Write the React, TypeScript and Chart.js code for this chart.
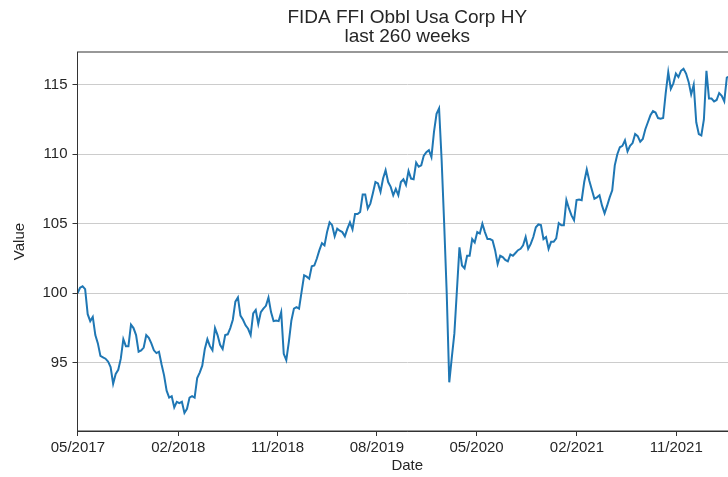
import React, { useEffect, useRef } from "react";
import { Chart, registerables } from "chart.js";

Chart.register(...registerables);

const titleLines = ["FIDA FFI Obbl Usa Corp HY", "last 260 weeks"];
const startDate = "2017-04-30";
const xTickLabels = ["05/2017", "02/2018", "11/2018", "08/2019", "05/2020", "02/2021", "11/2021"];
const yTicks = [95, 100, 105, 110, 115];

// weekly values (260 weeks)
const values: number[] = [
  100.0, 100.4, 100.5, 100.3, 98.5, 98.0, 98.3, 97.0, 96.4, 95.5,
  95.4, 95.3, 95.1, 94.7, 93.5, 94.2, 94.5, 95.3, 96.7, 96.2,
  96.2, 97.75, 97.5, 97.0, 95.8, 95.9, 96.1, 97.0, 96.8, 96.4,
  95.9, 95.7, 95.8, 94.9, 94.1, 93.0, 92.5, 92.6, 91.8, 92.2,
  92.1, 92.2, 91.4, 91.7, 92.5, 92.6, 92.5, 93.9, 94.3, 94.8,
  96.0, 96.7, 96.2, 95.9, 97.5, 97.0, 96.3, 96.0, 97.0, 97.05,
  97.5, 98.1, 99.4, 99.7, 98.4, 98.1, 97.7, 97.45, 97.0, 98.55,
  98.8, 97.8, 98.65, 98.9, 99.1, 99.7, 98.65, 98.0, 98.05, 98.0,
  98.65, 95.65, 95.2, 96.5, 98.05, 98.9, 99.0, 98.9, 100.1, 101.3,
  101.2, 101.05, 101.95, 102.0, 102.5, 103.1, 103.6, 103.45, 104.4, 105.1,
  104.9, 104.1, 104.65, 104.5, 104.4, 104.1, 104.65, 105.1, 104.6, 105.7,
  105.7, 105.85, 107.1, 107.1, 106.1, 106.45, 107.2, 108.0, 107.9, 107.3,
  108.25, 108.85, 108.0, 107.65, 107.05, 107.5, 107.05, 108.0, 108.2, 107.8,
  108.8, 108.25, 108.2, 109.4, 109.1, 109.2, 109.9, 110.15, 110.3, 109.8,
  111.6, 112.9, 113.3, 109.6, 105.0, 100.0, 93.6, 95.4, 97.1, 100.2,
  103.3, 102.0, 101.8, 102.7, 102.7, 103.9, 103.65, 104.4, 104.3, 105.0,
  104.4, 103.9, 103.9, 103.8, 103.1, 102.1, 102.7, 102.6, 102.4, 102.3,
  102.8, 102.7, 102.9, 103.1, 103.2, 103.45, 104.05, 103.2, 103.55, 104.05,
  104.75, 104.95, 104.9, 103.9, 104.05, 103.2, 103.7, 103.7, 103.95, 105.05,
  104.9, 104.9, 106.7, 106.1, 105.6, 105.25, 106.7, 106.75, 106.7, 108.0,
  108.9, 108.1, 107.45, 106.8, 106.9, 107.05, 106.3, 105.75, 106.3, 106.9,
  107.4, 109.2, 110.0, 110.5, 110.6, 111.0, 110.2, 110.6, 110.8, 111.45,
  111.3, 110.9, 111.1, 111.8, 112.3, 112.8, 113.1, 113.0, 112.6, 112.55,
  112.6, 114.4, 115.9, 114.7, 115.1, 115.8, 115.55, 116.0, 116.15, 115.8,
  115.2, 114.3, 115.0, 112.3, 111.45, 111.35, 112.5, 116.0, 114.0, 114.0,
  113.8, 113.9, 114.4, 114.2, 113.8, 115.5, 115.6, 115.2, 115.7, 115.4,
];

const FONT = "'Liberation Sans', Arial, Helvetica, sans-serif";
const TEXT = "#262626";

function weekIndexOf(label: string): number {
  const [m, y] = label.split("/").map(Number);
  const d = Date.UTC(y, m - 1, 1);
  const s = Date.parse(startDate + "T00:00:00Z");
  return (d - s) / (7 * 24 * 3600 * 1000);
}

const framePlugin = {
  id: "frame",
  afterDraw(chart: any) {
    const { ctx, chartArea } = chart;
    const { left, right, top, bottom } = chartArea;
    ctx.save();
    ctx.strokeStyle = "#333333";
    ctx.lineWidth = 1;
    ctx.strokeRect(left, top, right - left, bottom - top);
    ctx.fillStyle = TEXT;
    ctx.font = `19px ${FONT}`;
    ctx.textAlign = "center";
    ctx.textBaseline = "middle";
    const cx = (left + right) / 2;
    ctx.fillText(titleLines[0], cx, 18);
    ctx.fillText(titleLines[1], cx, 37);
    ctx.restore();
  },
};

export default function App() {
  const ref = useRef<HTMLCanvasElement>(null);
  useEffect(() => {
    if (!ref.current) return;
    const chart = new Chart(ref.current, {
      type: "line",
      data: {
        datasets: [
          {
            data: values.map((v, i) => ({ x: i, y: v })),
            borderColor: "#1f77b4",
            borderWidth: 2,
            pointRadius: 0,
            tension: 0,
            fill: false,
          },
        ],
      },
      options: {
        animation: false,
        responsive: false,
        events: [],
        layout: { padding: { top: 52, right: 23, left: 0, bottom: 0 } },
        plugins: {
          legend: { display: false },
          title: { display: false },
          tooltip: { enabled: false },
        },
        scales: {
          x: {
            type: "linear",
            min: 0,
            max: values.length - 1,
            afterFit: (s: any) => {
              s.height = 46;
            },
            afterBuildTicks: (s: any) => {
              s.ticks = xTickLabels.map((l) => ({ value: weekIndexOf(l) }));
            },
            ticks: {
              autoSkip: false,
              maxRotation: 0,
              padding: 3,
              color: TEXT,
              font: { family: FONT, size: 15 },
              callback: (_v: any, i: number) => xTickLabels[i],
            },
            grid: {
              drawOnChartArea: false,
              drawTicks: true,
              tickLength: 5,
              tickColor: "#333333",
            },
            border: { display: true, color: "#333333" },
            title: {
              display: true,
              text: "Date",
              color: TEXT,
              font: { family: FONT, size: 15 },
              padding: { top: 0, bottom: 2 },
            },
          },
          y: {
            type: "linear",
            min: 90.1,
            max: 117.35,
            afterFit: (s: any) => {
              s.width = 77.5;
            },
            afterBuildTicks: (s: any) => {
              s.ticks = yTicks.map((v) => ({ value: v }));
            },
            ticks: {
              padding: 5,
              color: TEXT,
              font: { family: FONT, size: 15 },
              callback: (v: any) => String(v),
            },
            grid: {
              color: "#cccccc",
              lineWidth: 1,
              drawTicks: true,
              tickLength: 5,
              tickColor: "#333333",
            },
            border: { display: true, color: "#333333" },
            title: {
              display: true,
              text: "Value",
              color: TEXT,
              font: { family: FONT, size: 15 },
              padding: { top: 11, bottom: 0 },
            },
          },
        },
      },
      plugins: [framePlugin],
    });
    return () => chart.destroy();
  }, []);

  return (
    <div
      style={{
        position: "fixed",
        left: 0,
        top: 0,
        width: 728,
        height: 477,
        overflow: "hidden",
        background: "#ffffff",
      }}
    >
      <canvas ref={ref} width={760} height={477} style={{ width: 760, height: 477, display: "block" }} />
    </div>
  );
}
